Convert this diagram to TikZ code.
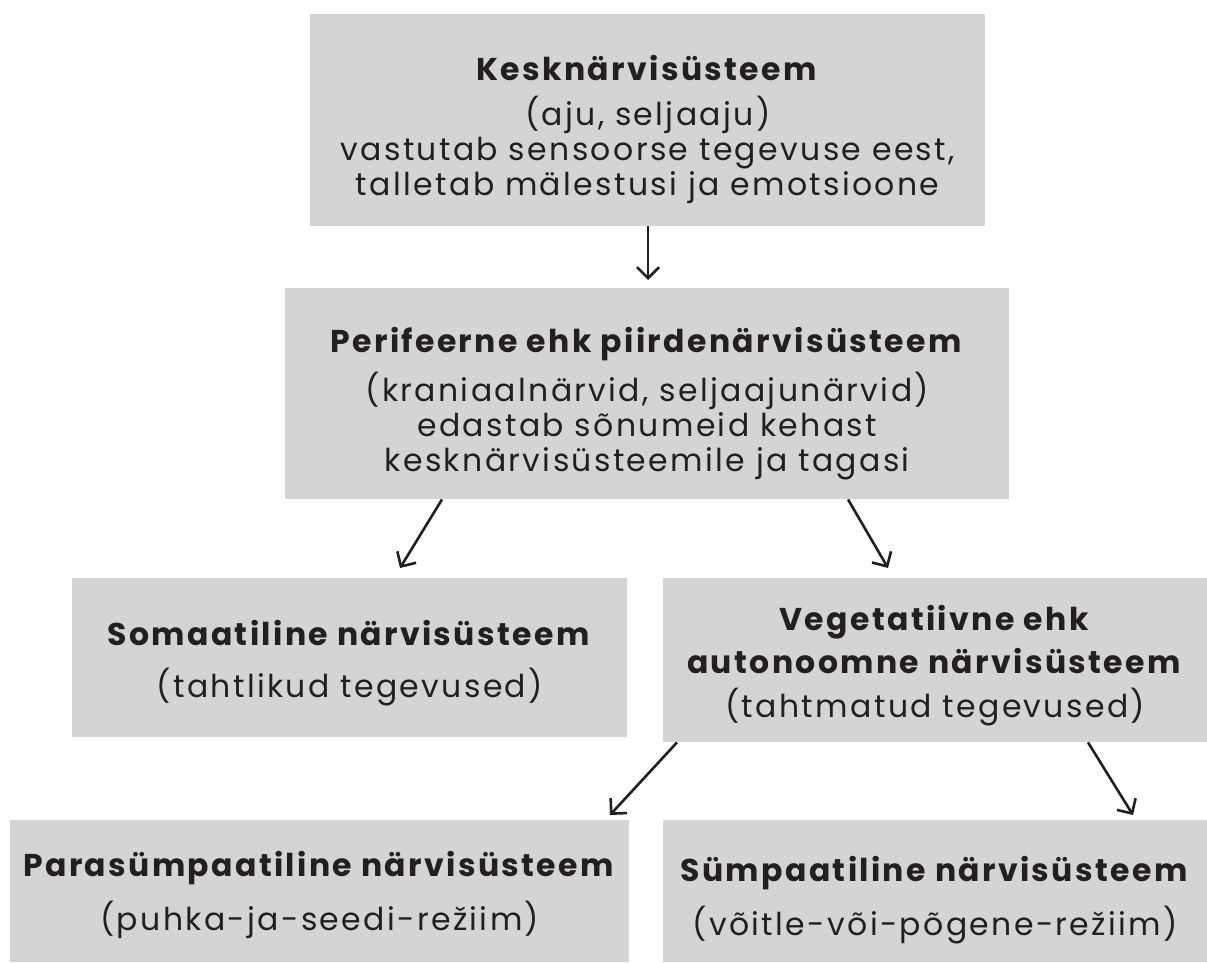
\documentclass[tikz,border=0pt]{standalone}
\usepackage{fontspec}
\setmainfont{Poppins}[LetterSpace=7.5]
\usetikzlibrary{arrows.meta,calc}
\definecolor{boxgray}{HTML}{D4D4D6}
\definecolor{ink}{HTML}{231F20}
\begin{document}
\begin{tikzpicture}[x=1pt,y=-1pt,
  box/.style={fill=boxgray, draw=none, anchor=north west, inner sep=0pt},
  txt/.style={inner sep=0pt, align=center, text=ink, font=\fontsize{31.5}{35}\selectfont},
  arr/.style={draw=ink, line width=2.6pt, -{Straight Barb[length=11pt,width=22pt,line width=2.6pt]}}]
\useasboundingbox[fill=white] (0,0) rectangle (1207,962);
% boxes
\node[box, minimum width=675pt, minimum height=212pt] (b1) at (310,14) {};
\node[box, minimum width=724pt, minimum height=211pt] (b2) at (285,288) {};
\node[box, minimum width=555pt, minimum height=159pt] (b3) at (72,578) {};
\node[box, minimum width=544pt, minimum height=164pt] (b4) at (663,578) {};
\node[box, minimum width=619pt, minimum height=142pt] (b5) at (10,820) {};
\node[box, minimum width=544pt, minimum height=142pt] (b6) at (663,820) {};
% texts
\node[txt] (t1) at ($(b1.center)+(0,9)$)
  {\textbf{Kesknärvisüsteem}\\[10pt](aju, seljaaju)\\vastutab sensoorse tegevuse eest,\\talletab mälestusi ja emotsioone};
\node[txt] (t2) at ($(b2.center)+(0,10)$)
  {\textbf{Perifeerne ehk piirdenärvisüsteem}\\[10pt](kraniaalnärvid, seljaajunärvid)\\edastab sõnumeid kehast\\kesknärvisüsteemile ja tagasi};
\node[txt] (t3) at ($(b3.center)+(0,5)$)
  {\textbf{Somaatiline närvisüsteem}\\[17pt](tahtlikud tegevused)};
\node[txt] (t4) at ($(b4.center)+(0,5)$)
  {\textbf{Vegetatiivne ehk}\\[8pt]\textbf{autonoomne närvisüsteem}\\[9pt](tahtmatud tegevused)};
\node[txt] (t5) at ($(b5.center)+(0,4)$)
  {\textbf{Parasümpaatiline närvisüsteem}\\[15pt](puhka-ja-seedi-režiim)};
\node[txt] (t6) at ($(b6.center)+(0,9)$)
  {\textbf{Sümpaatiline närvisüsteem}\\[15pt](võitle-või-põgene-režiim)};
% connectors
\coordinate (e1) at (648,280);
\coordinate (e2) at (400,568);
\coordinate (e3) at (888,568);
\coordinate (e4) at (610,815);
\coordinate (e5) at (1133,815);
\draw[arr] (b1.south -| e1) -- (e1);
\draw[arr] ($(b2.south west)+(157,0)$) -- (e2);
\draw[arr] ($(b2.south west)+(563,0)$) -- (e3);
\draw[arr] ($(b4.south west)+(14,0)$) -- (e4);
\draw[arr] ($(b4.south west)+(425,0)$) -- (e5);
\end{tikzpicture}
\end{document}
